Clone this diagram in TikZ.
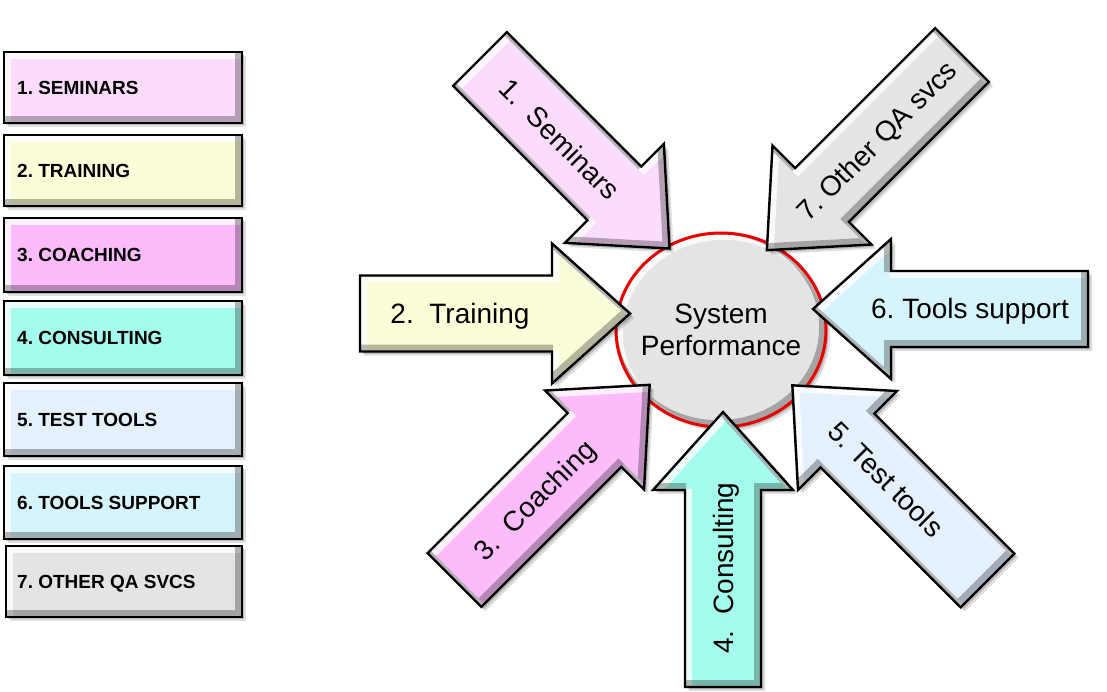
\documentclass[tikz,border=0pt]{standalone}
\usepackage{fontspec}
\setmainfont{Liberation Sans}
\usetikzlibrary{calc}
\frenchspacing
\definecolor{cSem}{RGB}{252,220,252}
\definecolor{cTra}{RGB}{252,252,216}
\definecolor{cCoa}{RGB}{252,188,252}
\definecolor{cCon}{RGB}{164,252,236}
\definecolor{cTes}{RGB}{228,240,252}
\definecolor{cSup}{RGB}{214,244,252}
\definecolor{cOth}{RGB}{228,228,228}
\definecolor{cRing}{RGB}{232,0,0}
\tikzset{
  boxlabel/.style={font=\fontsize{19}{22}\selectfont\bfseries, anchor=west, inner sep=0pt, text height=13.5pt, text depth=0pt},
  arrowlabel/.style={font=\fontsize{28}{33}\selectfont, inner sep=0pt, text height=20pt, text depth=0pt},
  centerlabel/.style={font=\fontsize{28}{32}\selectfont, align=center, inner sep=0pt},
  blackedge/.style={draw=black, line width=2.4pt, line join=miter},
  rededge/.style={draw=cRing, line width=3pt},
}
% block arrow along +x, tail centre at origin
\newcommand\arrowshape[1]{(0,-38) -- ({#1-78},-38) -- ({#1-78},-70) -- (#1,0) -- ({#1-78},70) -- ({#1-78},38) -- (0,38) -- cycle}
% #1 path, #2 fill colour, #3 rotation of current frame, #4 edge style
\newcommand\bevelshape[4]{%
  \fill[black,opacity=.12,shift={({-45-(#3)}:6)}] #1;
  \fill[black,opacity=.18,shift={({-45-(#3)}:3.5)}] #1;
  \fill[#2] #1;
  \begin{scope}
    \clip #1;
    \draw[white,opacity=.8,line width=8pt,shift={({-45-(#3)}:4)}] #1;
    \draw[black,opacity=.28,line width=8pt,shift={({135-(#3)}:4)}] #1;
  \end{scope}
  \draw[#4] #1;
}
% #1 x, #2 y, #3 angle, #4 length, #5 colour, #6 label distance, #7 label rotation, #8 name, #9 text
\newcommand\blockarrow[9]{%
  \begin{scope}[shift={(#1,#2)},rotate=#3]
    \bevelshape{\arrowshape{#4}}{#5}{#3}{blackedge}
  \end{scope}
  \node[arrowlabel,rotate=#7] (#8) at ([shift={(#3:#6)}]#1,#2) {#9};
}
% #1 top, #2 bottom, #3 left, #4 colour, #5 name, #6 text
\newcommand\legendbox[6]{%
  \bevelshape{(#3,#1) rectangle (242,#2)}{#4}{0}{blackedge}
  \node[boxlabel] (#5) at (17,{(#1+#2)/2}) {#6};
}
\begin{document}
\begin{tikzpicture}[x=1pt,y=1pt]
\useasboundingbox (0,0) rectangle (1107,691);
% legend
\legendbox{639}{568}{4}{cSem}{b1}{1. SEMINARS}
\legendbox{556}{485}{4}{cTra}{b2}{2. TRAINING}
\legendbox{473}{399}{4}{cCoa}{b3}{3. COACHING}
\legendbox{390}{316}{4}{cCon}{b4}{4. CONSULTING}
\legendbox{308}{235}{4}{cTes}{b5}{5. TEST TOOLS}
\legendbox{225}{152}{4}{cSup}{b6}{6. TOOLS SUPPORT}
\legendbox{145}{74}{6}{cOth}{b7}{7. OTHER QA SVCS}
% centre
\bevelshape{(721,361) ellipse [x radius=105pt, y radius=97pt]}{cOth}{0}{rededge}
\node[centerlabel] (perf) at (721,361) {System\\Performance};
% arrows
\blockarrow{480}{632}{-45}{268}{cSem}{113}{-45}{a1}{1.\ \ Seminars}
\blockarrow{962}{636}{-135}{276}{cOth}{121}{45}{a7}{7. Other QA svcs}
\blockarrow{360}{377.5}{0}{270}{cTra}{100}{0}{a2}{2.\ \ Training}
\blockarrow{1088}{382}{180}{275}{cSup}{118}{0}{a6}{6. Tools support}
\blockarrow{454.5}{111}{45}{276}{cCoa}{113}{45}{a3}{3.\ \ Coaching}
\blockarrow{987.5}{110.5}{135}{276}{cTes}{143}{-45}{a5}{5. Test tools}
\blockarrow{723}{4}{90}{275}{cCon}{119}{90}{a4}{4.\ \ Consulting}
\end{tikzpicture}
\end{document}
